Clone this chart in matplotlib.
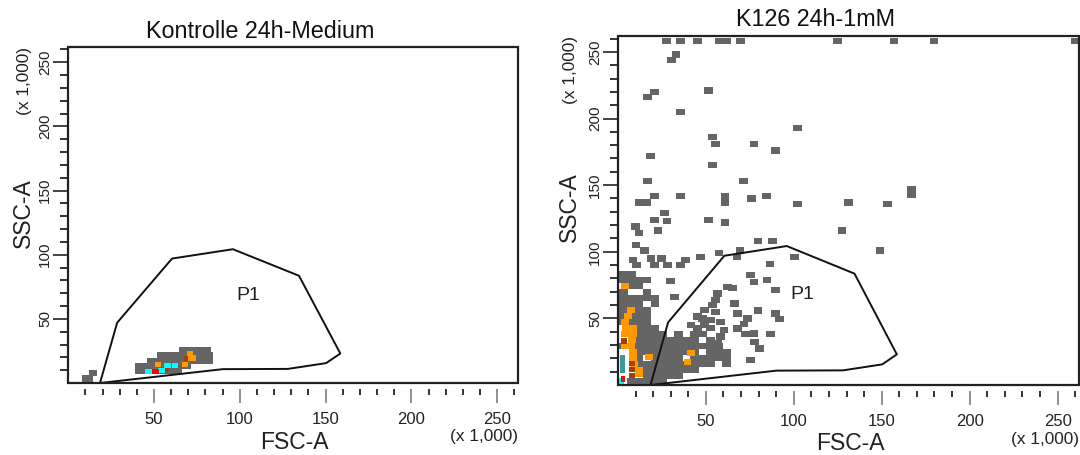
import numpy as np
import matplotlib
matplotlib.use("Agg")
import matplotlib.pyplot as plt
from matplotlib.patches import Rectangle

plt.rcParams['font.family'] = ['Liberation Sans', 'DejaVu Sans']

# axis scale (x 1,000): FACS linear range 0..262144
AX_MAX = 262.144
MAJOR_TICKS = [50, 100, 150, 200, 250]
MAJOR_LABELS = ["50", "100", "150", "200", "250"]
MINOR_TICKS = [10, 20, 30, 40, 60, 70, 80, 90, 110, 120, 130, 140, 160, 170, 180,
               190, 210, 220, 230, 240, 260]

# gate P1 (same polygon in both plots)
GATE_X = [18.5, 28.5, 60.5, 96.0, 134.5, 158.6, 150.3, 128.0, 90.1, 18.5]
GATE_Y = [0.0, 47.0, 97.0, 104.3, 83.6, 23.0, 15.5, 11.0, 10.8, 0.0]
GATE_LABEL_POS = (105, 68)

# ---- Kontrolle 24h-Medium: density cells (x, y in units of 1,000)
CTRL_GRAY_X = [10, 12, 10, 12, 14.5,
               41, 45, 49, 53, 57, 61, 64,
               41, 45, 49, 53, 57, 61, 65, 69.5,
               48, 52, 56, 60, 64, 68, 72, 76, 80, 82,
               54, 58, 62, 66, 70, 74, 78, 82,
               67, 71, 75, 79, 81]
CTRL_GRAY_Y = [2.3, 2.3, 4, 4, 8,
               9, 9, 9, 9, 9, 9, 9,
               13, 13, 13, 13, 13, 13, 13, 13,
               17.5, 17.5, 17.5, 17.5, 17.5, 17.5, 17.5, 17.5, 17.5, 17.5,
               22, 22, 22, 22, 22, 22, 22, 22,
               26, 26, 26, 26, 26]
CTRL_CYAN_X = [46.7, 54.5, 58, 62.3]
CTRL_CYAN_Y = [8.8, 9.5, 13.5, 13.5]
CTRL_ORANGE_X = [52.3, 68, 69, 73, 71]
CTRL_ORANGE_Y = [14.5, 14.5, 19, 19.5, 23]
CTRL_BROWN_X = [57.5, 68.5]
CTRL_BROWN_Y = [10, 19]
CTRL_RED_X = [50.8]
CTRL_RED_Y = [8.8]

# ---- K126 24h-1mM: sparse events
K_SPARSE_X = [27.7, 35.6, 45.1, 57.5, 62, 69.6, 125, 157, 179.7, 260,
              33, 30.5, 20.7, 16.6, 51.5, 35.6, 102.3, 53.8, 55.6, 77.3, 89.6, 18.5, 53.8, 16.6, 71.5,
              20.9, 35.6, 60.9, 60.9, 75.8, 84.5, 167, 167, 12, 16.5, 102.3, 131, 153.2,
              26.4, 27.9, 20.7, 22.8, 51.5, 60.9, 127.4, 9.9, 11.9, 79.6, 88, 10.3, 15.1, 149,
              18.8, 24.9, 8.5, 10.7, 20.7, 28.3, 35.6, 38.6, 46.9, 57.5, 69.4, 67.7, 86.4, 100.4]
K_SPARSE_Y = [258, 258, 258, 258, 258, 258, 258, 258, 258, 258,
              248, 244, 220, 216, 221, 205, 193, 186, 181, 181, 176, 172, 165, 153, 153,
              142, 142, 142, 137, 140, 142, 147, 143, 137, 137, 136, 137, 136,
              129, 123, 124, 116, 124, 122, 116, 119, 114, 108, 108, 105, 101, 101,
              95, 95, 94, 90, 90, 90, 90, 94, 96, 99, 101, 96, 91, 96]
K_MID_X = [75.5, 77.4, 84.8, 62.2, 65, 89.6, 56.6, 55.6, 66.4, 53.8,
           49, 48, 45.3, 55.6, 67.9, 79.6, 89.6, 92, 73.6, 71.7,
           67.9, 58.5, 60.3, 58.5, 56.6, 52.8, 52.8, 49, 45.3, 41.5,
           77.4, 77.8, 80.3, 86.8, 72.3, 75.5, 30, 32]
K_MID_Y = [82.5, 77.5, 79, 73.7, 73, 71.3, 68.8, 63.8, 61.3, 60,
           56.3, 50, 51.3, 55, 53.8, 55.8, 53.8, 49.5, 50, 46,
           42.5, 47.5, 41.3, 36.3, 31.3, 48.8, 43, 45, 42.5, 45,
           38.8, 32.5, 27.5, 38.3, 38.3, 18.8, 78, 66]

# ---- K126 dense region, one list per row
K_DENSE_ROWS = {
    83.5: [3, 7.5],
    79: [3, 7.5, 12, 16.5],
    74.5: [8, 12],
    70: [3, 16.5],
    65.5: [3, 7.5, 12, 16.5, 21],
    61: [3, 7.5, 12, 21],
    56.5: [3, 12, 16.5],
    52: [3, 8, 12, 16.5],
    47.5: [3, 7.5, 12, 16.5],
    43: [13, 16.5, 21],
    38.5: [12, 16.5, 21, 25.5, 34.5, 43.5, 48],
    34: [12, 16.5, 21, 25.5, 30, 34.5, 39, 43.5, 52.5],
    29.5: [3, 12, 16.5, 21, 25.5, 30, 34.5, 39, 43.5, 48, 52.5, 57],
    25: [12, 16.5, 21, 25.5, 30, 34.5, 39, 43.5, 52.5, 57, 61.5],
    20.5: [12, 21, 25.5, 30, 34.5, 43.5, 48, 52.5, 57, 61.5],
    16: [12, 16.5, 21, 25.5, 30, 34.5, 39, 43.5, 48, 52.5, 61.5],
    11.5: [16.5, 21, 25.5, 30, 34.5, 39, 43.5],
    7: [16.5, 21, 25.5, 30, 34.5],
    2.5: [7.5, 12, 16.5, 21, 25.5],
}
K_TEAL_X = [2.5, 2.5, 2.5]
K_TEAL_Y = [20.5, 16, 11.5]
K_ORANGE_X = [4, 7.5, 5.5, 4, 4.5, 8.5, 4, 8.5, 8, 4, 7.5, 8.5, 8.5, 17.5, 9, 12, 12,
              41.5, 39.6]
K_ORANGE_Y = [74.5, 56.5, 52, 47.5, 43, 43, 38.5, 38.5, 34, 29.5, 29.5, 25, 20.5, 21, 16, 11.5, 8,
              23.8, 17.5]
K_BROWN_X = [3.5, 8, 8, 8]
K_BROWN_Y = [33, 16, 11.5, 7]
K_CYAN_X = [2.0]
K_CYAN_Y = [3.0]
K_RED_X = [3.0]
K_RED_Y = [4.3]

CELL_W = 5.0
CELL_H = 4.8
GRAY = '#656565'
ORANGE = '#FF9900'
BROWN = '#A0410D'
TEAL = '#3A9A9A'
CYAN = '#00FFFF'
RED = '#FF0000'


def draw_cells(ax, xs, ys, color, w=CELL_W, h=CELL_H):
    ys = np.asarray(ys, dtype=float)
    ax.bar(xs, h, width=w, bottom=ys - h / 2, color=color, linewidth=0, zorder=2)


def style_axes(ax, title, title_pos, xlab_pos, ylab_pos, xunit_pos, yunit_pos):
    ax.set_xlim(0, AX_MAX)
    ax.set_ylim(0, AX_MAX)
    for s in ax.spines.values():
        s.set_visible(False)
    ax.spines['bottom'].set_position(('outward', 4))
    ax.add_patch(Rectangle((0, 0), 1, 1, transform=ax.transAxes, fill=False,
                           lw=1.6, edgecolor='#222222', clip_on=False, zorder=5))

    ax.set_xticks(MAJOR_TICKS, labels=MAJOR_LABELS)
    ax.set_xticks(MINOR_TICKS, minor=True)
    ax.set_yticks(MAJOR_TICKS, labels=MAJOR_LABELS)
    ax.set_yticks(MINOR_TICKS, minor=True)
    ax.tick_params(axis='x', which='major', direction='out', length=10, width=1.3,
                   color='#888888', pad=7, labelsize=12, labelcolor='#222222')
    ax.tick_params(axis='x', which='minor', direction='out', length=4.5, width=1.3,
                   color='#222222')
    ax.tick_params(axis='y', which='major', direction='out', length=10.5, width=1.3,
                   color='#333333', pad=1, labelsize=11, labelcolor='#222222')
    ax.tick_params(axis='y', which='minor', direction='out', length=5.5, width=1.3,
                   color='#222222')
    plt.setp(ax.get_yticklabels(), rotation=90, va='center')

    ax.text(*title_pos, title, transform=ax.transAxes, ha='center', va='center',
            fontsize=16.8, color='#111111')
    ax.text(*xlab_pos, "FSC-A", transform=ax.transAxes, ha='center', va='center',
            fontsize=16.5, color='#222222')
    ax.text(*ylab_pos, "SSC-A", transform=ax.transAxes, ha='center', va='center',
            rotation=90, fontsize=16.5, color='#222222')
    ax.text(*xunit_pos, "(x 1,000)", transform=ax.transAxes, ha='right', va='center',
            fontsize=12.4, color='#222222')
    ax.text(*yunit_pos, "(x 1,000)", transform=ax.transAxes, ha='center', va='top',
            rotation=90, fontsize=12.4, color='#222222')

    ax.plot(GATE_X, GATE_Y, color='#111111', lw=1.4, zorder=4)
    ax.text(*GATE_LABEL_POS, "P1", ha='center', va='center', fontsize=14,
            color='#222222', zorder=4)


fig = plt.figure(figsize=(10.8, 4.55), dpi=100)

# left panel: control
ax1 = fig.add_axes([0.0632, 0.1582, 0.4164, 0.7392])
draw_cells(ax1, CTRL_GRAY_X, CTRL_GRAY_Y, GRAY, w=4.4, h=4.6)
draw_cells(ax1, CTRL_ORANGE_X, CTRL_ORANGE_Y, ORANGE, w=3.5, h=4)
draw_cells(ax1, CTRL_BROWN_X, CTRL_BROWN_Y, BROWN, w=2.5, h=3.5)
draw_cells(ax1, CTRL_CYAN_X, CTRL_CYAN_Y, CYAN, w=3.9, h=4)
draw_cells(ax1, CTRL_RED_X, CTRL_RED_Y, RED, w=3.9, h=4)
style_axes(ax1, "Kontrolle 24h-Medium", (0.426, 1.045), (0.502, -0.178),
           (-0.10, 0.506), (1.0, -0.16), (-0.098, 1.0))

# right panel: K126
ax2 = fig.add_axes([0.5722, 0.1538, 0.4268, 0.7677])
dense_x = [x for y, row in K_DENSE_ROWS.items() for x in row]
dense_y = [y for y, row in K_DENSE_ROWS.items() for x in row]
draw_cells(ax2, K_SPARSE_X, K_SPARSE_Y, GRAY)
draw_cells(ax2, K_MID_X, K_MID_Y, GRAY)
draw_cells(ax2, dense_x, dense_y, GRAY)
draw_cells(ax2, K_ORANGE_X, K_ORANGE_Y, ORANGE, w=4.4, h=4.6)
draw_cells(ax2, K_TEAL_X, K_TEAL_Y, TEAL, w=2.5)
draw_cells(ax2, K_BROWN_X, K_BROWN_Y, BROWN, w=3, h=4)
draw_cells(ax2, K_CYAN_X, K_CYAN_Y, CYAN, w=3, h=5)
draw_cells(ax2, K_RED_X, K_RED_Y, RED, w=2.5, h=4.5)
style_axes(ax2, "K126 24h-1mM", (0.428, 1.045), (0.505, -0.166),
           (-0.105, 0.51), (1.0, -0.155), (-0.103, 1.0))

fig.savefig("out.png", dpi=100)
